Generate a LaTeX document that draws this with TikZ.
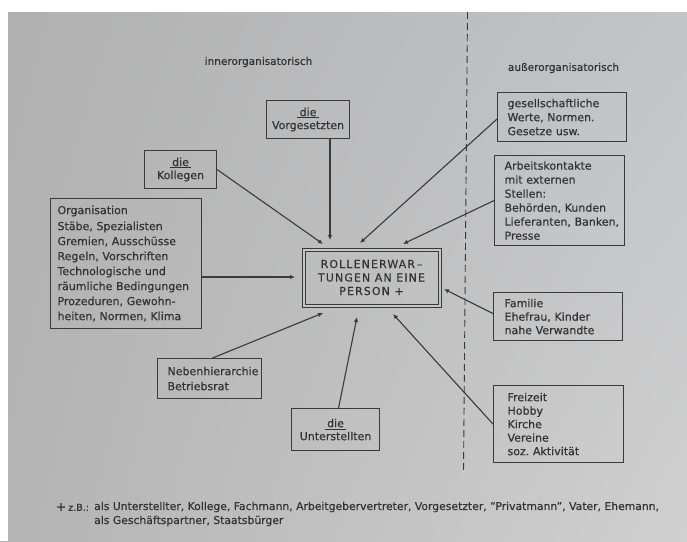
\documentclass[tikz,border=0pt]{standalone}
\usepackage{fontspec}
\setmainfont{DejaVu Sans}[FakeBold=0.5]
\newfontfamily\widefont{DejaVu Sans}[LetterSpace=10,FakeBold=0.6]
\usetikzlibrary{arrows.meta,calc,shadings}
\definecolor{ink}{HTML}{333333}
\definecolor{lineink}{HTML}{3A3A3A}
\definecolor{bgUL}{HTML}{B0B0B0}
\definecolor{bgUR}{HTML}{C2C4C7}
\definecolor{bgLL}{HTML}{B4B4B4}
\definecolor{bgLR}{HTML}{D0D0D0}
\definecolor{bgMid}{HTML}{C6C6C6}
\newcommand{\dieline}{\underline{\hspace{2.5pt}die\hspace{2.5pt}}}
\begin{document}
\begin{tikzpicture}[x=1pt,y=-1pt,
  box/.style={draw=lineink,line width=1.1pt,anchor=north west,inner ysep=0pt,
    font=\fontsize{11}{15}\selectfont,text=ink},
  lbox/.style={box,align=left},
  cbox/.style={box,align=center,inner xsep=0pt},
  side/.style={font=\fontsize{10.5}{13}\selectfont,text=ink},
  conn/.style={draw=lineink,line width=1.1pt,-{Latex[length=5pt,width=4.5pt]}}]
\useasboundingbox (0,0) rectangle (687,541);
\shade[upper left=bgUL,upper right=bgUR,lower left=bgLL,lower right=bgLR] (0,0) rectangle (687,541);
\fill[white] (0,0) rectangle (687,12);
\fill[white] (0,0) rectangle (8,541);

% region labels and divider
\node[side] (inner) at (258.5,62) {innerorganisatorisch};
\node[side] (outer) at (563.5,68) {außerorganisatorisch};
\coordinate (divtop) at (467.5,12);
\coordinate (divbot) at (463.5,472);
\draw[lineink,line width=0.9pt,dash pattern=on 7pt off 4pt] (divtop) -- (divbot);

% central box
\node[draw=lineink,double=bgMid,double distance=2pt,line width=1pt,
  minimum width=136pt,minimum height=56pt,align=center,text=ink,
  font=\widefont\fontsize{11}{13.5}\selectfont,inner sep=0pt] (cen) at (371.5,277.5)
  {ROLLENERWAR\,\textendash\\TUNGEN AN EINE\\PERSON +};

% inner-organisational boxes
\node[cbox,minimum width=83pt,minimum height=38pt,font=\fontsize{11}{13}\selectfont] (vorg) at (266,100) {\dieline\\Vorgesetzten};
\node[cbox,minimum width=72pt,minimum height=38pt,font=\fontsize{11}{13}\selectfont] (koll) at (144,150) {\dieline\\Kollegen};
\node[lbox,minimum width=151pt,minimum height=130pt,text width=137pt,inner xsep=7pt] (org) at (50,198)
  {Organisation\\[1pt]Stäbe,~Spezialisten\\Gremien,~Ausschüsse\\Regeln,~Vorschriften\\Technologische~und\\räumliche~Bedingungen\\Prozeduren,~Gewohn-\\heiten,~Normen,~Klima};
\node[lbox,minimum width=104pt,minimum height=40pt,text width=84pt,inner xsep=10pt] (neben) at (157,358)
  {Nebenhierarchie\\Betriebsrat};
\node[cbox,minimum width=88pt,minimum height=42pt,font=\fontsize{11}{13}\selectfont] (unter) at (291,408) {\dieline\\Unterstellten};

% outer-organisational boxes
\node[lbox,minimum width=129pt,minimum height=49pt,text width=109pt,inner xsep=10pt,font=\fontsize{11}{14}\selectfont] (ges) at (497,92)
  {gesellschaftliche\\Werte,~Normen.\\Gesetze~usw.};
\node[lbox,minimum width=130pt,minimum height=90pt,text width=110pt,inner xsep=10pt,font=\fontsize{11}{14}\selectfont] (arb) at (494,155)
  {Arbeitskontakte\\mit~externen\\Stellen:\\Behörden,~Kunden\\Lieferanten,~Banken,\\Presse};
\node[lbox,minimum width=129pt,minimum height=48pt,text width=107pt,inner xsep=11pt,font=\fontsize{11}{13.5}\selectfont] (fam) at (493,292)
  {Familie\\Ehefrau,~Kinder\\nahe~Verwandte};
\node[lbox,minimum width=130pt,minimum height=77pt,text width=102pt,inner xsep=14pt,font=\fontsize{11}{13.5}\selectfont] (frei) at (493,385)
  {Freizeit\\Hobby\\Kirche\\Vereine\\soz.~Aktivität};

% arrow targets at the central box
\coordinate (tV) at (330,240);
\coordinate (tK) at (323,244);
\coordinate (tO) at (295,277);
\coordinate (tG) at (360,243);
\coordinate (tA) at (403,244);
\coordinate (tF) at (444,289);
\coordinate (tN) at (323,313);
\coordinate (tU) at (357,317);
\coordinate (tR) at (393,314);

\draw[conn] (vorg.south -| tV) -- (tV);
\draw[conn] (koll.east) -- (tK);
\draw[conn] (org.east |- tO) -- (tO);
\draw[conn] ($(ges.west)+(0,2)$) -- (tG);
\draw[conn] (arb.west) -- (tA);
\draw[conn] ($(fam.west)+(0,-3)$) -- (tF);
\draw[conn] (frei.west) -- (tR);
\draw[conn] ($(neben.north)+(3,0)$) -- (tN);
\draw[conn] ($(unter.north)+(3,0)$) -- (tU);

% footnote
\node[anchor=west,text=ink,inner sep=0pt] (fnmark) at (56,507) {\fontsize{12}{14}\selectfont+\,\fontsize{9.5}{14}\selectfont z.B.:};
\node[anchor=west,align=left,text=ink,font=\fontsize{10.8}{14}\selectfont,inner sep=0pt] (fntext) at (94,514)
  {als Unterstellter, Kollege, Fachmann, Arbeitgebervertreter, Vorgesetzter, ``Privatmann'', Vater, Ehemann,\\als Geschäftspartner, Staatsbürger};
\end{tikzpicture}
\end{document}
